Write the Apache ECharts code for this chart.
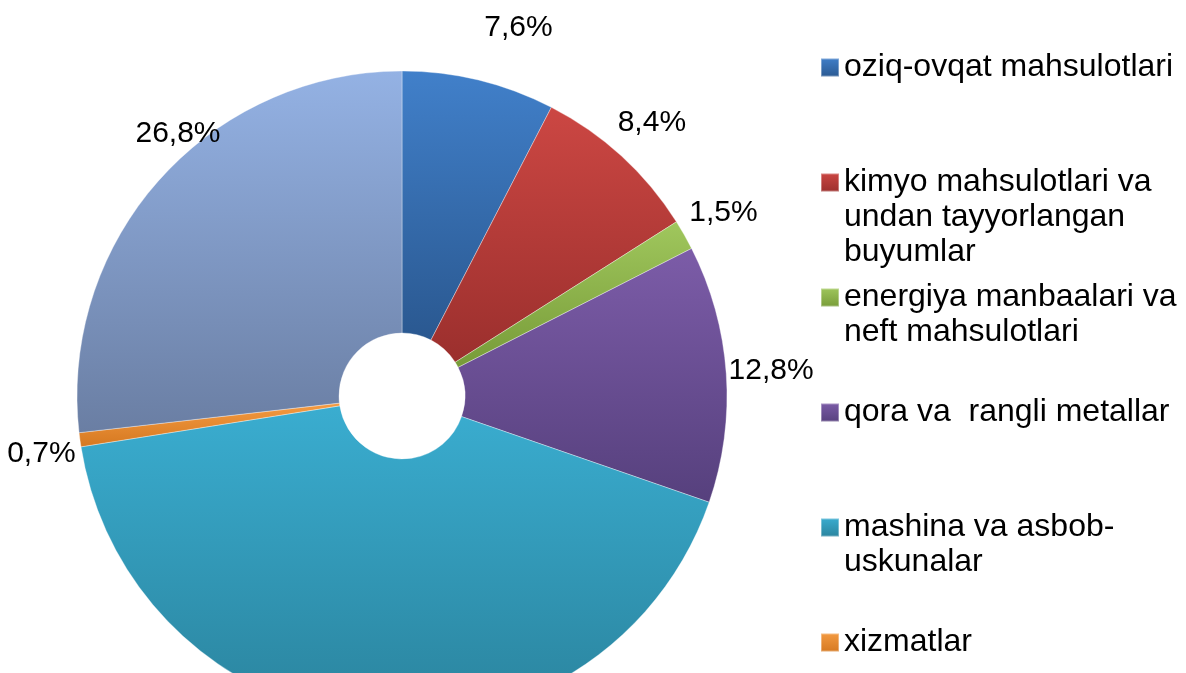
<!DOCTYPE html>
<html><head><meta charset="utf-8">
<script src="https://cdn.jsdelivr.net/npm/echarts@6/dist/echarts.min.js"></script>
<style>html,body{margin:0;padding:0;background:#fff}#chart{width:1186px;height:673px}</style>
</head><body><div id="chart"></div>
<script>
// ---- data ----
const categories = [
  'oziq-ovqat mahsulotlari',
  'kimyo mahsulotlari va undan tayyorlangan buyumlar',
  'energiya manbaalari va neft mahsulotlari',
  'qora va rangli metallar',
  'mashina va asbob-uskunalar',
  'xizmatlar',
  'boshqalar'
];
const values = [7.6, 8.4, 1.5, 12.8, 42.2, 0.7, 26.8];
const legendCategories = categories.slice(0, 6);
const legendLines = [
  ['oziq-ovqat mahsulotlari'],
  ['kimyo mahsulotlari va', 'undan tayyorlangan', 'buyumlar'],
  ['energiya manbaalari va', 'neft mahsulotlari'],
  ['qora va  rangli metallar'],
  ['mashina va asbob-', 'uskunalar'],
  ['xizmatlar']
];

// ---- styles ----
const colorsLight = ['#4180CA', '#CC4743', '#A0C75D', '#7C5CA8', '#3AADD0', '#F49B42', '#94B2E4'];
const colorsDark  = ['#2A5890', '#9B2F2D', '#779B38', '#56407D', '#2A839D', '#D57820', '#6A7EA3'];
const labelOffsets = [[29, -9], [0, 0], [0, 0], [0, 0], [0, 0], [6, 8], [52, -16]];
const FONT = "'Liberation Sans', Arial, sans-serif";
const CENTER = [402, 396];

function grad(i) {
  return {
    type: 'linear', x: 0, y: 0, x2: 0, y2: 1,
    colorStops: [{ offset: 0, color: colorsLight[i] }, { offset: 1, color: colorsDark[i] }]
  };
}
function fmt(v) { return v.toFixed(1).replace('.', ',') + '%'; }

const pieData = categories.map((name, i) => ({
  name, value: values[i],
  itemStyle: { color: grad(i) }
}));
const labelData = categories.map((name, i) => ({
  name, value: values[i],
  label: { offset: labelOffsets[i] }
}));

const LH = 35;
const legends = legendCategories.map((name, i) => {
  const lines = legendLines[i];
  const n = lines.length;
  const firstCenter = 67 + 115 * i;
  return {
    orient: 'vertical',
    left: 820,
    top: Math.round(firstCenter - (n - 0.5) * LH),
    padding: 0,
    itemGap: 0,
    itemWidth: 18,
    itemHeight: 18,
    icon: 'rect',
    selectedMode: false,
    data: [name],
    formatter: () => '\n'.repeat(n - 1) + lines.join('\n'),
    textStyle: { fontFamily: FONT, fontSize: 32, lineHeight: LH, color: '#000' }
  };
});

const chart = echarts.init(document.getElementById('chart'));
chart.setOption({
  backgroundColor: '#fff',
  animation: false,
  legend: legends,
  series: [
    {
      type: 'pie',
      center: CENTER,
      radius: [63, 325],
      startAngle: 90,
      clockwise: true,
      avoidLabelOverlap: false,
      label: { show: false },
      labelLine: { show: false },
      itemStyle: { borderColor: 'rgba(255,255,255,0.35)', borderWidth: 1 },
      emphasis: { disabled: true },
      data: pieData
    },
    {
      type: 'pie',
      center: CENTER,
      radius: [347, 387],
      startAngle: 90,
      clockwise: true,
      silent: true,
      legendHoverLink: false,
      avoidLabelOverlap: false,
      itemStyle: { color: 'rgba(0,0,0,0)', borderWidth: 0 },
      label: {
        show: true, position: 'inside', color: '#000',
        fontFamily: FONT, fontSize: 30,
        formatter: p => fmt(p.value)
      },
      labelLine: { show: false },
      emphasis: { disabled: true },
      data: labelData
    }
  ]
});
</script></body></html>
